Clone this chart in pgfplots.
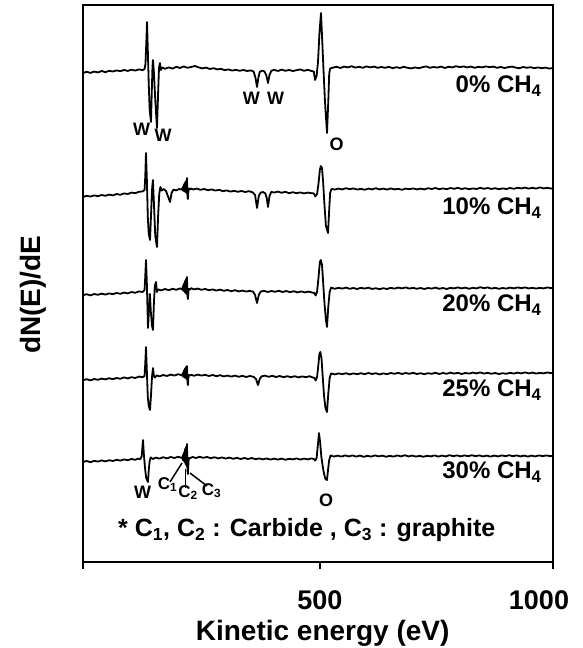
\documentclass[border=0pt]{standalone}
\usepackage{fontspec}
\setmainfont{Liberation Sans}
\usepackage{pgfplots}
\pgfplotsset{compat=1.18}
\usepackage{pgfplotstable}

\pgfplotstableread{
x y
-8 489.0
0 490.2
8 489.1
16 490.4
24 489.6
32 491.0
40 489.8
48 491.2
56 490.5
64 491.6
72 490.8
80 492.0
88 491.1
96 492.3
104 491.4
112 492.6
120 491.8
124 493.0
126 498
128 522
129.3 540
131 512
133 478
135 452
137.8 440
139.5 470
141 495
142.1 502
144 490
147 462
150.7 434
153 468
155 494
157.1 499
159 492
162 494.5
168 493.2
176 494.6
184 493.4
192 495.2
200 494.0
208 495.6
216 494.2
224 495.0
232 496.0
240 494.6
248 493.6
256 494.4
264 493.0
272 493.8
280 492.6
288 493.2
296 491.8
304 492.6
312 491.4
320 492.2
328 491.2
336 492.0
344 491.0
352 491.6
358 490.4
362 484
365.2 475
368 484
371 490
376 491.4
381 490.6
385 487
388.8 479
392 487
396 491.2
402 492.2
410 491.0
418 492.4
426 491.2
434 492.0
442 491.0
450 491.8
458 492.6
466 491.2
474 492.2
482 491.0
487 490.5
489.6 482
493 486
496 500
499 528
502.4 549
505 522
508 490
511 460
515.3 429
518 460
520 488
522 493.5
528 494.4
536 495.2
544 494.0
552 495.4
560 494.6
568 495.8
576 494.4
584 495.2
592 494.2
600 495.6
608 494.6
616 495.4
624 494.2
632 495.0
640 494.2
648 495.2
656 493.8
664 494.8
672 494.0
680 495.2
688 494.2
696 493.6
704 494.6
712 493.8
720 494.8
728 495.6
736 494.2
744 495.0
752 494.4
760 495.4
768 494.0
776 495.2
784 494.6
792 495.8
800 494.8
808 495.6
816 494.6
824 495.4
832 494.2
840 495.2
848 494.6
856 495.6
864 494.8
872 495.4
880 494.2
888 495.0
896 494.0
904 494.8
912 495.4
920 494.4
928 493.8
936 495.0
944 494.2
952 494.8
960 493.8
968 494.6
976 493.8
984 494.4
992 493.4
1000 494.0
}\cZero

\pgfplotstableread{
x y
-8 365.0
0 366.2
8 365.4
16 366.6
24 365.8
32 367.0
40 366.2
48 367.4
56 366.6
64 368.0
72 367.2
80 368.6
88 368.0
96 369.4
104 368.8
112 370.2
120 370.6
124 372.0
125.5 385
127.1 409
129 382
131 345
133 328
135.7 322
138 348
140 372
142 382
144 360
147 326
150.7 315
153 345
155.5 368
158 375
161 371.5
165 373.0
170 371.0
174 366
178.6 360
182 369
186 372.4
192 371.6
198 373.0
204 372.4
205 374
206 371.5
207 376
208 371
209 378
210 370.5
211 379.5
212 370
213 381
214 369
215 384
216 366
217 363
218 370
219 373.5
221 372.6
224 373.5
228 372.6
236 373.4
244 372.2
252 373.0
260 371.8
268 372.6
276 371.4
284 372.2
292 370.8
300 371.6
308 370.4
316 371.2
324 370.2
332 371.0
340 370.0
348 370.8
356 369.6
361 367
365.2 354
369 366
373 369.4
378 370.0
383 368.6
386 364
388.8 355
392 366
396 370.2
402 369.4
410 370.4
418 369.2
426 370.2
434 368.8
442 369.8
450 368.8
458 369.6
466 368.6
474 369.4
482 368.8
487 368.6
490 365.5
494 368
497 378
500 392
502 396
504.6 394
507 380
510 356
513 336
517.5 329
520 352
522 369
525 373.2
532 372.4
540 373.4
548 372.6
556 373.8
564 372.8
572 373.6
580 372.4
588 373.2
596 372.2
604 373.4
612 372.6
620 373.8
628 372.6
636 373.4
644 372.4
652 373.6
660 372.6
668 373.2
676 372.2
684 373.4
692 372.8
700 373.6
708 372.6
716 373.4
724 372.6
732 373.8
740 373.0
748 374.0
756 372.8
764 373.6
772 372.8
780 374.0
788 373.2
796 374.2
804 373.0
812 373.8
820 372.8
828 373.6
836 373.0
844 374.2
852 373.2
860 374.0
868 373.0
876 373.8
884 372.8
892 373.6
900 373.0
908 374.0
916 373.2
924 374.2
932 373.6
940 374.4
948 373.4
956 374.2
964 373.4
972 374.6
980 373.6
988 374.2
996 373.4
1000 373.8
}\cTen

\pgfplotstableread{
x y
-8 266.8
0 267.8
8 266.6
16 268.0
24 267.2
32 268.4
40 267.4
48 268.6
56 267.8
64 269.0
72 268.2
80 269.4
88 268.6
96 270.0
104 269.2
112 270.6
120 270.0
124 272.0
125.5 285
127.1 302
129 278
131.4 234
133.5 252
135.5 268
137.5 250
140 236
142.1 232
144 258
146 276
148.6 280
150.5 270
153 272.6
160 271.6
168 273.0
176 271.8
184 273.2
192 272.2
200 273.6
204 272.8
205 274
206 271.5
207 277
208 271
209 279
210 270
211 281
212 269
213 283
214 268
215 285
216 266
217 263
218 270
219 273
221 272.4
224 273.8
230 272.6
238 273.4
246 272.2
254 273.0
262 271.8
270 272.6
278 271.4
286 272.4
294 271.2
302 272.0
310 270.8
318 271.8
326 270.6
334 271.4
342 270.4
350 271.2
357 270.2
361 267
365.2 259
369 267
373 270.4
380 271.2
388 270.0
396 271.0
404 270.2
412 271.2
420 270.0
428 271.0
436 269.8
444 270.8
452 269.6
460 270.6
468 269.6
476 270.4
484 269.4
488 269.0
491 266.5
494 270
497 284
500 300
502 302
504.6 297
507 280
510 258
513 242
515.3 235
518 255
521 270
524 274.4
532 273.2
540 274.2
548 273.4
556 274.4
564 273.2
572 274.0
580 273.0
588 274.2
596 273.4
604 274.4
612 273.0
620 273.8
628 272.8
636 273.8
644 273.0
652 274.2
660 273.4
668 274.4
676 273.6
684 274.6
692 273.4
700 274.2
708 273.2
716 274.0
724 273.0
732 274.0
740 273.4
748 274.4
756 273.2
764 274.0
772 273.0
780 274.2
788 273.6
796 274.6
804 273.6
812 274.4
820 273.2
828 274.2
836 273.6
844 274.8
852 273.8
860 274.6
868 273.4
876 274.2
884 273.2
892 274.0
900 273.4
908 274.4
916 273.6
924 274.6
932 273.8
940 274.6
948 273.6
956 274.2
964 273.4
972 274.2
980 273.6
988 274.6
996 273.8
1000 274.2
}\cTwenty

\pgfplotstableread{
x y
-8 181.8
0 182.8
8 181.6
16 183.0
24 182.2
32 183.4
40 182.6
48 183.8
56 182.8
64 184.0
72 183.2
80 184.6
88 183.6
96 184.8
104 184.0
112 185.4
120 184.8
124 186.0
125.5 198
127.1 215
129 190
131 165
133 156
135.7 152
138 168
140 185
142.1 194
144 186
146 184.5
150 186.6
156 185.6
164 187.0
172 186.0
180 187.4
188 186.4
196 187.8
204 186.8
205 188
206 185.5
207 190
208 185
209 192
210 184.5
211 193.5
212 184
213 195
214 183
215 196
216 180
217 177
218 184
219 187
221 186.4
224 187.2
230 186.2
238 187.4
246 186.4
254 187.2
262 186.0
270 187.0
278 185.8
286 186.8
294 185.6
302 186.4
310 185.4
318 186.4
326 185.2
334 186.2
342 185.0
350 186.0
358 185.2
363 183
367.3 177
371 183
375 185.6
382 186.4
390 185.2
398 186.2
406 185.0
414 186.0
422 184.8
430 185.8
438 184.8
446 185.8
454 184.6
462 185.6
470 184.8
478 185.8
484 184.6
488 184.2
491 181.5
494 185
497 198
499 208
501 210
503.5 204
506 186
509 166
512 154
515.3 150
518 168
521 184
524 188.6
532 187.6
540 188.6
548 187.8
556 188.8
564 187.6
572 188.6
580 187.8
588 188.8
596 187.8
604 189.0
612 188.0
620 188.8
628 187.6
636 188.6
644 187.8
652 189.0
660 188.2
668 189.2
676 188.0
684 189.0
692 188.2
700 189.2
708 188.0
716 188.8
724 187.8
732 188.8
740 188.2
748 189.2
756 188.0
764 189.0
772 188.2
780 189.4
788 188.4
796 189.2
804 188.0
812 189.0
820 188.4
828 189.4
836 188.6
844 189.6
852 188.4
860 189.2
868 188.2
876 189.0
884 188.0
892 188.8
900 188.2
908 189.2
916 188.4
924 189.4
932 188.6
940 189.6
948 188.6
956 189.4
964 188.4
972 189.2
980 188.6
988 189.6
996 188.8
1000 189.2
}\cTwentyFive

\pgfplotstableread{
x y
-8 100.0
0 101.0
8 99.8
16 101.2
24 100.4
32 101.6
40 100.6
48 101.8
56 101.0
64 102.2
72 101.4
80 102.6
88 101.8
96 103.0
104 102.2
110 103.4
115 102.8
118 106
120.7 122
122.5 108
125 94
127.5 84
131.4 80
133 92
135 101
137 104.6
142 103.0
148 104.4
156 103.4
164 104.8
172 103.6
180 105.0
188 104.0
196 105.2
203 104.2
205 105
206 102
207 108
208 101
209 110
210 100
211 113
212 98
213 115
214 96
215 118
216 92
217 88
218 98
219 104
221 103.6
224 104.4
227 105.0
234 104.0
242 105.2
250 104.2
258 105.0
266 103.8
274 104.8
282 103.6
290 104.6
298 103.4
306 104.4
314 103.2
322 104.2
330 103.0
338 104.0
346 103.0
354 104.0
362 102.8
370 103.6
378 102.6
386 103.6
394 102.4
402 103.4
410 102.4
418 103.4
426 102.2
434 103.2
442 102.6
450 103.6
458 102.4
466 103.4
474 102.6
482 103.6
487 103.0
490 101.5
493 104
495.5 116
498.1 129
500.5 120
503 106
506 96
509 88
512 83
515.3 82
517.5 92
520 102
523 106.6
530 105.4
538 106.4
546 105.4
554 106.6
562 105.6
570 106.6
578 105.4
586 106.4
594 105.2
602 106.2
610 105.4
618 106.6
626 105.6
634 106.4
642 105.2
650 106.2
658 105.4
666 106.6
674 105.6
682 106.8
690 105.6
698 106.4
706 105.4
714 106.2
722 105.2
730 106.2
738 105.6
746 106.6
754 105.4
762 106.4
770 105.6
778 106.8
786 105.8
794 106.6
802 105.6
810 106.6
818 105.8
826 106.8
834 105.8
842 106.6
850 105.6
858 106.4
866 105.4
874 106.4
882 105.6
890 106.6
898 105.8
906 106.8
914 105.8
922 106.6
930 105.6
938 106.4
946 105.4
954 106.4
962 105.6
970 106.6
978 105.8
986 106.6
994 105.8
1000 106.2
}\cThirty

\newcommand{\fs}[1]{\bfseries\fontsize{#1}{#1}\selectfont}

\begin{document}
\begin{tikzpicture}
\begin{axis}[
  at={(0pt,0pt)}, anchor=south west,
  scale only axis, width=470pt, height=557pt,
  xmin=-8, xmax=1000, ymin=0, ymax=557,
  xtick={-8,500,1000}, xticklabels={,500,1000\hspace*{28pt}},
  ytick=\empty,
  tick align=outside, xtick pos=lower, major tick length=7pt,
  axis line style={line width=1.6pt},
  every tick/.style={line width=1.4pt, black},
  /pgf/number format/assume math mode=true,
  ticklabel style={font=\fs{27}},
  xticklabel style={anchor=base, yshift=-40pt},
  xlabel={Kinetic energy (eV)}, ylabel={dN(E)/dE},
  label style={font=\fs{28}},
  xlabel style={at={(axis description cs:0.51,0)}, anchor=base, yshift=-78pt},
  ylabel style={at={(axis description cs:-0.106,0.48)}, anchor=center},
  clip=false,
]
\addplot[black, line width=1.8pt, line join=round, mark=none] table[x=x,y=y] {\cZero};
\addplot[black, line width=1.8pt, line join=round, mark=none] table[x=x,y=y] {\cTen};
\addplot[black, line width=1.8pt, line join=round, mark=none] table[x=x,y=y] {\cTwenty};
\addplot[black, line width=1.8pt, line join=round, mark=none] table[x=x,y=y] {\cTwentyFive};
\addplot[black, line width=1.8pt, line join=round, mark=none] table[x=x,y=y] {\cThirty};

% peak labels, top curve
\node[font=\fs{18}] at (axis cs:117.5,433) {W};
\node[font=\fs{18}] at (axis cs:163.6,427) {W};
\node[font=\fs{18}] at (axis cs:353,463.5) {W};
\node[font=\fs{18}] at (axis cs:405,463.5) {W};
\node[font=\fs{18}] at (axis cs:535.7,418) {O};

% curve labels
\node[anchor=east, font=\fs{24}] at (axis cs:983,476) {0\% CH\textsubscript{4}};
\node[anchor=east, font=\fs{24}] at (axis cs:983,354) {10\% CH\textsubscript{4}};
\node[anchor=east, font=\fs{24}] at (axis cs:983,257) {20\% CH\textsubscript{4}};
\node[anchor=east, font=\fs{24}] at (axis cs:983,172) {25\% CH\textsubscript{4}};
\node[anchor=east, font=\fs{24}] at (axis cs:983,90) {30\% CH\textsubscript{4}};

% bottom curve annotations
\node[font=\fs{18}] at (axis cs:119.6,69.5) {W};
\node[font=\fs{17}] at (axis cs:173.2,77.5) {C\textsubscript{1}};
\node[font=\fs{17}] at (axis cs:217.2,69.5) {C\textsubscript{2}};
\node[font=\fs{17}] at (axis cs:267.6,71.5) {C\textsubscript{3}};
\node[font=\fs{18}] at (axis cs:513.2,62) {O};
\draw[line width=1.5pt] (axis cs:178.6,80) -- (axis cs:204.3,99);
\draw[line width=1.5pt] (axis cs:212,74) -- (axis cs:212,93);
\draw[line width=1.5pt] (axis cs:221.5,89) -- (axis cs:258,76);

\node[anchor=west, font=\fs{25}] at (axis cs:60,32) {* C\textsubscript{1}, C\textsubscript{2} : Carbide , C\textsubscript{3} : graphite};
\end{axis}
\pgfresetboundingbox
\path[use as bounding box] (-83pt,-86pt) rectangle (500pt,562pt);
\end{tikzpicture}
\end{document}
